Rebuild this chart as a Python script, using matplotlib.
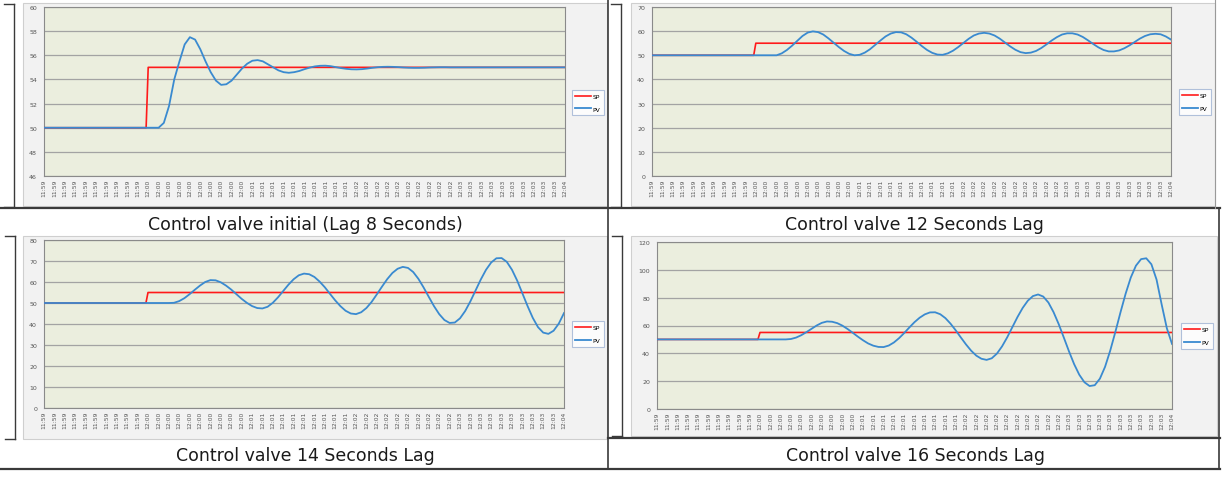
import matplotlib
matplotlib.use("Agg")
import matplotlib.pyplot as plt
from matplotlib.lines import Line2D
from matplotlib.patches import Rectangle
import numpy as np

W, H = 1228, 481

# ---- Data ---------------------------------------------------------------
# PV samples every half category (one category = 6 s, 11:59 -> 12:04)
T = np.arange(0, 50.5, 0.5)
TIME_LABELS = (["11:59"] * 10 + ["12:00"] * 10 + ["12:01"] * 10
               + ["12:02"] * 10 + ["12:03"] * 10 + ["12:04"])

SP_T = [0, 9.8, 10, 50]
SP_VALUES = [50, 50, 55, 55]

PV_LAG8 = [50] * 23 + [
    50.4, 51.8, 54.0, 55.5, 56.9, 57.5, 57.3, 56.5, 55.5, 54.6,
    53.9, 53.55, 53.6, 53.9, 54.4, 54.9, 55.3, 55.55, 55.6, 55.5,
    55.25, 55.0, 54.75, 54.6, 54.55, 54.6, 54.7, 54.85, 54.98, 55.08,
    55.13, 55.14, 55.1, 55.02, 54.94, 54.88, 54.84, 54.83, 54.85, 54.9,
    54.96, 55.01, 55.04, 55.05, 55.04, 55.02, 54.99, 54.97, 54.96, 54.96,
    54.97, 54.99, 55.0, 55.01, 55.01] + [55.0] * 23

PV_LAG12 = [50] * 24 + [
    50.0, 50.8, 52.2, 54.0, 56.0, 58.0, 59.4, 59.9,
    59.6, 58.6, 57.0, 55.2, 53.4, 51.8, 50.6, 50.0,
    50.2, 51.1, 52.5, 54.3, 56.1, 57.8, 59.0, 59.6,
    59.5, 58.7, 57.3, 55.6, 53.8, 52.2, 51.0, 50.3,
    50.2, 50.8, 51.9, 53.4, 55.1, 56.8, 58.2, 59.0, 59.3,
    59.0, 58.2, 56.9, 55.3, 53.7, 52.3, 51.3, 50.9,
    51.1, 51.8, 53.0, 54.5, 56.1, 57.5, 58.6, 59.1,
    59.1, 58.6, 57.6, 56.2, 54.7, 53.3, 52.2, 51.6,
    51.6, 52.0, 52.9, 54.1, 55.5, 56.9, 58.0, 58.7, 58.9,
    58.7, 57.8, 56.5]

PV_LAG14 = [50] * 25 + [
    50.1, 50.9, 52.3, 54.2, 56.3, 58.3, 60.0, 60.9, 60.8,
    59.85, 58.3, 56.4, 54.2, 52.0, 50.1, 48.55, 47.6, 47.4,
    48.2, 50.1, 52.7, 55.7, 58.7, 61.3, 63.2, 64.0,
    63.7, 62.4, 60.2, 57.5, 54.35, 51.25, 48.5, 46.3, 45.0, 44.7,
    45.6, 47.6, 50.5, 54.1, 57.8, 61.35, 64.3, 66.3, 67.2,
    66.7, 64.75, 61.5, 57.4, 52.9, 48.5, 44.7, 41.9, 40.5,
    40.7, 42.7, 46.2, 50.8, 56.0, 61.2, 65.8, 69.3, 71.3,
    71.4, 69.6, 65.8, 60.65, 54.6, 48.5, 42.9, 38.5, 35.9,
    35.3, 36.8, 40.2, 45.2]

PV_LAG16 = [50] * 26 + [
    50.3, 51.3, 53.0, 55.2, 57.6, 60.0, 61.9, 62.9,
    62.7, 61.7, 59.9, 57.5, 54.8, 52.0, 49.4, 47.1, 45.5, 44.6,
    44.5, 45.6, 47.8, 50.9, 54.6, 58.6, 62.4, 65.6, 68.0, 69.4,
    69.5, 68.1, 65.3, 61.3, 56.55, 51.4, 46.4, 41.9, 38.35, 36.1, 35.3,
    36.45, 39.8, 45.0, 51.5, 58.8, 66.1, 72.6, 77.8, 81.15, 82.3,
    80.8, 76.5, 69.6, 61.0, 51.3, 41.4, 32.2, 24.6, 19.2, 16.5,
    17.1, 21.8, 30.3, 41.9, 55.35, 69.5, 82.9, 94.5, 103.0, 107.7,
    108.3, 104.0, 93.0, 75.0, 58.0, 46.8]

CAPTIONS = ["Control valve initial (Lag 8 Seconds)", "Control valve 12 Seconds Lag",
            "Control valve 14 Seconds Lag", "Control valve 16 Seconds Lag"]

# ---- Style --------------------------------------------------------------
SP_COLOR = "#ff1a1a"
PV_COLOR = "#3a8ad0"
PLOT_BG = "#ebeede"
CHART_BG = "#f2f2f2"
GRID = "#a3a3a3"
LINE_DARK = "#3a3a3a"


def px_rect(x0, y0, x1, y1):
    return [x0 / W, 1 - y1 / H, (x1 - x0) / W, (y1 - y0) / H]


fig = plt.figure(figsize=(W / 100, H / 100), dpi=100)
fig.patch.set_facecolor("white")

panels = [
    # pv, ylim, ystep, plot rect, chart rect, legend anchor
    (PV_LAG8,  (46, 60), 2,  (44, 8, 565, 177),   (23, 4, 607, 207),    (1.013, 0.435)),
    (PV_LAG12, (0, 70),  10, (652, 8, 1171, 177), (631, 4, 1215, 207),  (1.015, 0.438)),
    (PV_LAG14, (0, 80),  10, (44, 241, 564, 409), (23, 237, 607, 440),  (1.015, 0.44)),
    (PV_LAG16, (0, 120), 20, (657, 243, 1172, 410), (631, 237, 1217, 437), (1.017, 0.437)),
]

for pv, ylim, ystep, prect, crect, leg_xy in panels:
    # Excel chart area behind the plot
    fig.add_artist(Rectangle((crect[0] / W, 1 - crect[3] / H),
                             (crect[2] - crect[0]) / W, (crect[3] - crect[1]) / H,
                             transform=fig.transFigure, facecolor=CHART_BG,
                             edgecolor="#cfcfcf", lw=0.8, zorder=0))
    ax = fig.add_axes(px_rect(*prect))
    ax.set_facecolor(PLOT_BG)
    ax.plot(SP_T, SP_VALUES, color=SP_COLOR, lw=1.2, label="SP", zorder=3)
    ax.plot(T, pv, color=PV_COLOR, lw=1.3, label="PV", zorder=4)
    ax.set_xlim(0, 50)
    ax.set_ylim(*ylim)
    ax.set_yticks(np.arange(ylim[0], ylim[1] + 1, ystep))
    ax.yaxis.grid(True, color=GRID, lw=0.9)
    ax.set_axisbelow(True)
    ax.set_xticks(range(len(TIME_LABELS)))
    ax.set_xticklabels(TIME_LABELS, rotation=90, fontsize=4.3, color="#555555")
    ax.tick_params(axis="x", length=0, pad=2)
    ax.tick_params(axis="y", length=0, pad=5, labelsize=4.5, labelcolor="#555555")
    for s in ax.spines.values():
        s.set_color("#8a8a8a")
        s.set_linewidth(0.8)
    leg = ax.legend(loc="center left", bbox_to_anchor=leg_xy, fontsize=4.3,
                    handlelength=2.6, handletextpad=0.3, labelspacing=1.3,
                    borderpad=0.6, borderaxespad=0, frameon=True, fancybox=False)
    leg.get_frame().set_edgecolor("#9fb3d3")
    leg.get_frame().set_linewidth(0.8)

# ---- Table lines and captions -------------------------------------------
def hline(y, x0, x1, lw=1.6, color=LINE_DARK):
    fig.add_artist(Line2D([x0 / W, x1 / W], [1 - y / H, 1 - y / H],
                          transform=fig.transFigure, color=color, lw=lw))


def vline(x, y0, y1, lw=1.2, color=LINE_DARK):
    fig.add_artist(Line2D([x / W, x / W], [1 - y0 / H, 1 - y1 / H],
                          transform=fig.transFigure, color=color, lw=lw))


hline(209, 0, 1220)
hline(439, 608, 1220)
hline(470, 0, 1220)
vline(608, 0, 470)
vline(1219, 209, 470)
vline(1215, 0, 209, lw=0.8, color="#9a9a9a")

# brackets at the picture anchors
for bx, y0, y1 in [(14, 5, 208), (621, 5, 208), (15, 237, 440), (622, 237, 437)]:
    vline(bx, y0, y1, lw=1.0)
    hline(y0, bx - 10, bx, lw=1.0)
    hline(y1, bx - 10, bx, lw=1.0)

for text, cx, cy in zip(CAPTIONS, [305, 914, 305, 915], [225, 225, 456, 456]):
    fig.text(cx / W, 1 - cy / H, text, ha="center", va="center",
             fontsize=12.5, color="#1a1a1a", family="DejaVu Sans")

fig.savefig("out.png", dpi=100)
plt.close(fig)
